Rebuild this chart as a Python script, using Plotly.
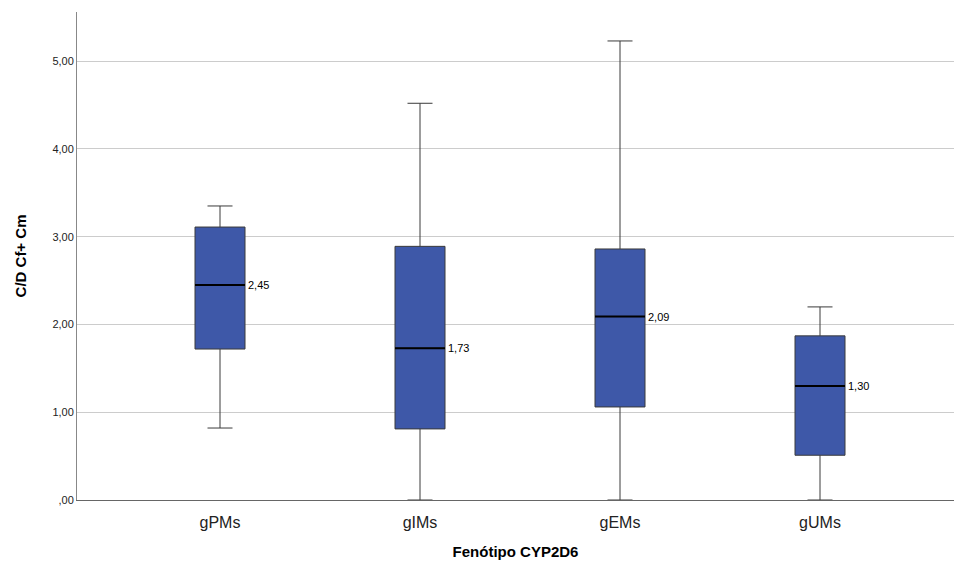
import plotly.graph_objects as go

# Boxplot statistics per CYP2D6 phenotype group
groups = ["gPMs", "gIMs", "gEMs", "gUMs"]
lower_whisker = [0.82, 0.00, 0.00, 0.00]
q1_vals = [1.72, 0.81, 1.06, 0.51]
medians = [2.45, 1.73, 2.09, 1.30]
q3_vals = [3.11, 2.89, 2.86, 1.87]
upper_whisker = [3.35, 4.52, 5.23, 2.20]

y_ticks = [0, 1, 2, 3, 4, 5]
y_tick_labels = [",00", "1,00", "2,00", "3,00", "4,00", "5,00"]

BOX_FILL = "#3E58A8"
BOX_LINE = "#3a3a3a"
BOX_WIDTH = 0.25

fig = go.Figure()
fig.add_trace(go.Box(
    x=groups,
    q1=q1_vals,
    median=medians,
    q3=q3_vals,
    lowerfence=lower_whisker,
    upperfence=upper_whisker,
    fillcolor=BOX_FILL,
    line=dict(color=BOX_LINE, width=1),
    width=BOX_WIDTH,
    whiskerwidth=0.5,
    boxpoints=False,
    hoverinfo="skip",
    showlegend=False,
))

# Emphasised median lines and their value labels
for i, (g, m) in enumerate(zip(groups, medians)):
    fig.add_shape(
        type="line", xref="x", yref="y",
        x0=i - BOX_WIDTH / 2, x1=i + BOX_WIDTH / 2, y0=m, y1=m,
        line=dict(color="black", width=2),
    )
    fig.add_annotation(
        x=i + BOX_WIDTH / 2, y=m, xref="x", yref="y",
        text=f"{m:.2f}".replace(".", ","),
        showarrow=False, xanchor="left", yanchor="middle", xshift=1,
        font=dict(family="Liberation Sans, Arial, sans-serif", size=11, color="black"),
    )

fig.update_layout(
    width=954, height=565,
    margin=dict(l=77, r=0, t=12, b=65),
    paper_bgcolor="white",
    plot_bgcolor="white",
    font=dict(family="Liberation Sans, Arial, sans-serif", color="black"),
    xaxis=dict(
        type="category",
        range=[-0.715, 3.67],
        showgrid=False,
        showline=True, linecolor="#666", linewidth=1,
        ticks="", ticklabelstandoff=8,
        tickfont=dict(size=16, color="#222"),
        title=dict(text="<b>Fenótipo CYP2D6</b>", font=dict(size=15), standoff=16),
        zeroline=False,
    ),
    yaxis=dict(
        range=[0, 5.56],
        tickvals=y_ticks, ticktext=y_tick_labels,
        tickfont=dict(size=11, color="#222"),
        showgrid=True, gridcolor="#cccccc", gridwidth=1,
        showline=True, linecolor="#888", linewidth=1,
        ticks="", zeroline=False,
        title=dict(text="<b>C/D Cf+ Cm</b>", font=dict(size=15), standoff=22),
    ),
)

fig.write_html("out.html")
